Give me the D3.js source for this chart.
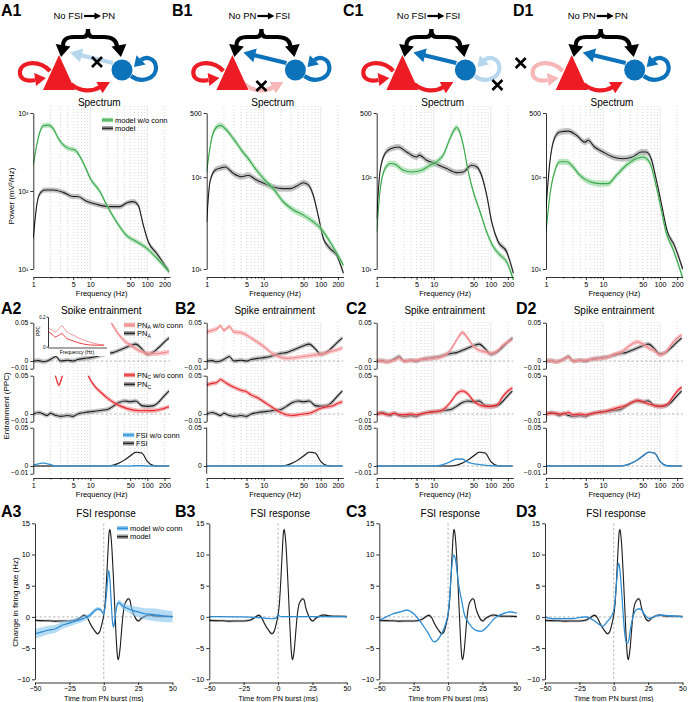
<!DOCTYPE html>
<html><head><meta charset="utf-8">
<script src="https://cdn.jsdelivr.net/npm/d3@7"></script>
<style>body{margin:0;background:#fff}svg text{font-family:"Liberation Sans",Arial,sans-serif}</style>
</head><body><script>
// ---------------- DATA ----------------
// Row 1: spectra (frequency Hz, power mV^2/Hz)
const A1g_f=[1,1.15,1.31,1.5,1.83,2.24,2.74,3.36,4.1,5.4,6.6,8.1,10,14.8,19.4,29,43,65,98,146,240];
const A1g_v=[215,389,575,687,700,630,474,389,352,335,275,205,145,98,66,40,27,22.4,18.4,13.8,9.3];
const A1k_f=[1,1.15,1.31,1.6,2.24,3.36,5,6,8.6,12.9,22,33,43,56.6,69,85,104,146,240];
const A1k_v=[24.7,66,93,103,103,96,85,85,74,67.5,63,63,70,73,66,36.6,22.4,15.9,9.3];
const B1g_f=[1,1.22,1.5,1.75,2.1,2.93,4.1,5.37,7.5,10.5,14.7,22,33,49.6,74,98,145,250];
const B1g_v=[114,263,352,367,339,263,196,159,119,93,75,54,44,38.6,32.7,28,19.8,11];
const B1k_f=[1,1.14,1.4,1.75,2.1,2.93,4.1,5.37,7.5,10.5,14.7,22,29,38,49.6,60,74,90,111,145,190,250];
const B1k_v=[32.6,89,119,126,129,110,101,105,93,85,78,75,75,80,87,83,63.6,38.6,21.6,16.8,14.2,9];
const C1g_f=[1,1.14,1.4,1.75,2.1,2.93,4.1,6.15,8.6,11.3,14.7,19.3,23.8,25.5,28,33,40.5,49.6,65,85,111,146,190,250];
const C1g_v=[25.4,69,124,141,138,119,114,119,135,147,174,263,339,347,320,223,114,69,42,25.4,17.5,14.2,12,7.6];
const C1k_f=[1,1.14,1.4,1.75,2.4,3.36,5,5.6,7.5,10.5,16.9,25,33,46,56.6,69,85,104,135,190,250];
const C1k_v=[35.6,114,181,204,213,188,166,174,153,141,124,112,114,135,130,105,63.6,32.7,19.8,15.4,9];
const D1g_f=[1,1.17,1.44,1.75,2.3,3,3.9,5.9,8.8,12.2,17.2,25.6,38,50,65,85,104,127,167,250];
const D1g_v=[25,63.6,119,147,147,129,105,89,85,85,105,135,159,166,147,82,45.7,25.4,16.8,8];
const D1k_f=[1,1.17,1.44,1.75,2.45,3.43,4.8,5.5,7.1,10,14.9,22.3,33,47,57,70,85,104,135,178,250];
const D1k_v=[45.7,147,274,310,317,286,241,252,213,188,166,159,166,188,188,159,97,54,25.4,18.2,10];

// Row 2: spike entrainment (PPC) on a shared frequency grid
const E=[1,1.25,1.5,1.75,2,2.5,3,4,5,6,8,10,13,16,20,25,32,40,50,63,80,100,130,160,200,240];
const PNA_model=[0,.0005,-.001,0,.002,.006,0,.001,0,.002,.0035,.0045,.006,.008,.010,.011,.014,.017,.020,.022,.016,.009,.012,.018,.025,.030];
const PNA_A=[.12,.11,.10,.095,.098,.12,.14,.12,.10,.095,.090,.085,.075,.065,.060,.046,.034,.026,.021,.016,.012,.010,.0095,.010,.011,.012];
const PNA_B=[.038,.040,.042,.046,.040,.045,.038,.037,.034,.030,.024,.019,.012,.008,.005,.0035,.004,.005,.006,.007,.008,.009,.011,.013,.015,.017];
const PNA_C=[.0005,0,-.001,0,.001,.004,0,.001,.001,.002,.003,.004,.005,.008,.015,.027,.037,.029,.019,.014,.012,.010,.013,.020,.025,.028];
const PNA_D=[0,.0005,-.001,0,.002,.005,0,.001,.001,.002,.003,.004,.006,.009,.011,.016,.022,.025,.022,.017,.013,.008,.013,.022,.030,.034];
const PNC_model=[0,.002,0,-.002,.001,-.002,-.003,-.002,-.003,0,.002,.003,.004,.005,.006,.010,.015,.017,.016,.017,.011,.010,.011,.016,.024,.030];
const PNC_A_f=[1,1.5,2,2.4,2.8,3.3,4,5,6.5,8,9.2,12,15,19,27,43,74,127,240];
const PNC_A=[.10,.085,.07,.052,.038,.052,.075,.08,.075,.062,.05,.036,.029,.022,.014,.0074,.0043,.0045,.0095];
const PNC_B=[.038,.040,.041,.045,.0425,.038,.035,.031,.029,.025,.021,.016,.0105,.006,.002,-.001,-.002,-.001,0,.001,.004,.0075,.0095,.0105,.014,.016];
const PNC_C=[0,.001,-.001,0,.001,-.001,-.001,0,-.001,0,.002,.003,.004,.008,.016,.026,.030,.026,.017,.012,.010,.010,.012,.022,.030,.034];
const PNC_D=[0,.001,.001,0,0,.002,-.001,0,-.001,0,.002,.003,.005,.007,.009,.011,.015,.018,.016,.013,.011,.010,.012,.020,.030,.035];
const FSI_model=[0,0,0,0,0,0,0,0,0,0,0,0,0,0,0,.001,.004,.008,.013,.018,.017,.006,.0005,0,0,0];
const FSI_A=[.001,.003,.004,.003,.002,0,0,0,0,0,0,0,0,0,0,0,0,0,0,.0005,.0005,0,0,0,0,0];
const FSI_B=[0,0,0,0,0,0,0,0,0,0,0,0,0,0,0,0,0,0,0,0,0,0,0,0,0,0];
const FSI_C=[0,0,0,0,0,0,0,0,0,0,0,0,.001,.003,.006,.009,.009,.005,.003,.002,.001,.0005,0,0,0,0];
const FSI_D=[0,0,0,0,0,0,0,0,0,0,0,0,0,0,0,.001,.004,.008,.013,.018,.017,.006,.0005,0,0,0];
// inset of A2 (full-range PPC)
const insetF=[1,1.4,1.8,2.5,3.5,4.5,5.7,8,11,18,30,50,80,130,210];
const insetLR=[.12,.11,.098,.115,.14,.12,.098,.085,.076,.058,.043,.03,.022,.015,.01];
const insetR=[.098,.08,.065,.075,.087,.07,.054,.045,.037,.025,.017,.012,.01,.01,.01];

// Row 3: FSI response (time ms, change in firing rate Hz)
const K3_t=[-50,-45,-40,-35,-30,-25,-20,-17,-14,-12,-10,-7,-4.5,-3,-1,0,1,2,3,4,4.5,5,6,7,8,9,10,10.5,11,12,13,14,15,16.5,18,19,20,22,24,25.5,27,30,33,36,40,45,50];
const K3_v=[-0.55,-0.6,-0.62,-0.68,-0.65,-0.65,-0.5,-0.1,0.25,-0.1,-1.0,-2.1,-2.7,-2.4,-0.8,0.3,2.2,5.8,10.2,13.7,14.0,13.4,10.7,6.4,1.6,-3.2,-6.4,-6.85,-6.5,-4.8,-2.1,0.3,1.8,2.6,2.9,2.7,1.6,0.3,-0.5,-0.65,-0.3,0.1,0.3,0.2,0.1,0.1,0.05];
const A3_t=[-50,-45,-40,-35,-30,-25,-20,-15,-10,-6,-4,-2,0,1,2,3,3.5,4.5,5.5,6.5,7.2,8,9,10,11,13,15,18,20,25,30,35,40,45,50];
const A3_v=[-2.7,-2.4,-2.1,-1.9,-1.3,-1.0,-0.65,-0.27,0.27,1.1,1.3,1.1,0.5,1.6,3.7,6.4,7.4,5.9,2.1,-1.1,-1.6,-0.5,1.1,2.1,2.3,1.9,1.6,1.3,1.1,0.8,0.5,0.4,0.27,0.1,0.05];
const A3_e=[0.8,0.75,0.7,0.65,0.6,0.55,0.5,0.45,0.4,0.35,0.3,0.3,0.3,0.3,0.3,0.3,0.3,0.3,0.3,0.3,0.3,0.3,0.35,0.4,0.45,0.5,0.55,0.6,0.7,0.8,0.9,1.0,1.0,0.95,0.9];
const B3_t=[-50,-30,-20,-10,-5,-2,-1,0,1,3,10,20,30,40,50];
const B3_v=[0.05,0,-0.05,-0.2,-0.3,-0.25,0,0.3,0.15,0.05,0.05,0.05,0.05,0.05,0.05];
const C3_t=[-50,-45,-40,-35,-30,-25,-20,-15,-10,-6,-3,-1,0,1,2,3,4,5,6,7,8,10,12,14,16,18,21,24,27,30,33,36,40,45,48,50];
const C3_v=[-0.54,0,0.5,0.8,1.07,0.5,-0.8,-2.4,-4.0,-3.2,-1.9,-0.5,0.5,2.7,5.9,8.6,9.9,9.6,8.3,6.4,4.8,2.5,0.3,-0.6,-1.3,-1.8,-2.2,-2.3,-1.9,-1.2,-0.4,0.1,0.5,0.8,0.7,0.6];
const D3_t=[-50,-45,-40,-30,-25,-20,-15,-10,-8,-5,-2,0,1,2,3,3.7,4.5,6,7,8,9,10,11,12,14,16,18,20,22,24,26,30,35,40,50];
const D3_v=[0,-0.27,-0.27,-0.27,-0.1,0,-0.5,-1.3,-1.5,-0.8,0,1.07,2.7,5.4,8.0,8.6,7.5,3.2,0,-2.7,-4.0,-4.2,-3.7,-2.1,0,1.07,1.3,1.2,0.5,0,-0.27,0.1,0.27,0.2,0.05];

// tick labels
const specXTicks=[1,5,10,50,100,200];
const specXMinor=[2,3,4,6,7,8,9,20,30,40,60,70,80,90];
const fsiXTicks=[-50,-25,0,25,50];
const fsiYTicks=[-10,-5,0,5,10,15];

// ---------------- DRAWING ----------------
const GR='#38a84a',GRb='#8fd39a',KK='#1e1e1e',KKb='#9a9a9a',LR='#f08a8d',LRb='#f6a9ab',RD='#e8252b',RDb='#f08a8d',BL='#2a8ad2',BLb='#86c5ef';
const svg=d3.select('body').append('svg').attr('width',688).attr('height',702);
let clipN=0;
function clip(x,y,w,h){const id='c'+(clipN++);svg.append('clipPath').attr('id',id).append('rect').attr('x',x).attr('y',y).attr('width',w).attr('height',h);return 'url(#'+id+')';}
function txt(g,x,y,s,size,anchor,extra){const t=g.append('text').attr('x',x).attr('y',y).attr('font-size',size).attr('text-anchor',anchor||'start').attr('fill','#000').text(s);if(extra)extra(t);return t;}
function drawSeries(g,x,y,s){
  const pts=s.f.map((f,i)=>({f,v:s.v[i],e:Array.isArray(s.e)?s.e[i]:s.e}));
  if(s.e){const ar=d3.area().curve(d3.curveMonotoneX).x(d=>x(d.f));
    if(s.rel)ar.y0(d=>y(d.v/(1+d.e))).y1(d=>y(d.v*(1+d.e)));else ar.y0(d=>y(d.v-d.e)).y1(d=>y(d.v+d.e));
    g.append('path').attr('d',ar(pts)).attr('fill',s.band).attr('fill-opacity',0.6);}
  g.append('path').attr('d',d3.line().curve(d3.curveMonotoneX).x(d=>x(d.f)).y(d=>y(d.v))(pts)).attr('fill','none').attr('stroke',s.c).attr('stroke-width',s.w||1.1);
}
function styleAxis(a){a.selectAll('path,line').attr('stroke','#000').attr('stroke-width',0.8);a.selectAll('text').attr('font-size',7.5).attr('fill','#000').attr('font-family','"Liberation Sans",Arial,sans-serif');}
function freqAxis(ax,yAx,x){
  const a=svg.append('g').attr('transform',`translate(0,${yAx})`).call(d3.axisBottom(x).tickValues(specXTicks).tickFormat(d3.format('d')).tickSize(3).tickSizeOuter(0).tickPadding(1.5));
  styleAxis(a);a.selectAll('text').attr('font-size',7.2);
  const m=svg.append('g').attr('transform',`translate(0,${yAx})`).call(d3.axisBottom(x).tickValues(specXMinor).tickFormat('').tickSize(1.5).tickSizeOuter(0));
  styleAxis(m);m.select('.domain').remove();
  txt(svg,x(1)+ (x(250)-x(1))/2,yAx+19,'Frequency (Hz)',7.5,'middle');
}
function vgrid(x,y1,y2){
  specXMinor.concat([5,50,200]).forEach(f=>svg.append('line').attr('x1',x(f)).attr('x2',x(f)).attr('y1',y1).attr('y2',y2).attr('stroke','#bdbdbd').attr('stroke-width',0.6).attr('stroke-dasharray','1,2'));
  [10,100].forEach(f=>svg.append('line').attr('x1',x(f)).attr('x2',x(f)).attr('y1',y1).attr('y2',y2).attr('stroke','#e2e2e2').attr('stroke-width',0.8));
}
function legendItem(x,y,c,b,label,sub,rest){
  svg.append('rect').attr('x',x).attr('y',y-2.2).attr('width',11).attr('height',4.4).attr('fill',b);
  svg.append('line').attr('x1',x).attr('x2',x+11).attr('y1',y).attr('y2',y).attr('stroke',c).attr('stroke-width',1.2);
  const t=txt(svg,x+13,y+2.6,'',7.5);
  t.append('tspan').text(label);
  if(sub){t.append('tspan').attr('font-size',5).attr('dy',1.8).text(sub);t.append('tspan').attr('dy',-1.8).text(rest||'');}
}
const cols=[33.3,206.7,376.7,546];
const cols3=[35,209.3,379.3,545];
const colOff=[0,173.4,343.4,512.7];
const letters=['A','B','C','D'];

// ---- panel labels
letters.forEach((L,i)=>{
  const lx=[1,172,343,513][i];
  [[1,16],[2,314],[3,516.5]].forEach(([n,y])=>txt(svg,lx+(n>1&&i>0?3:0),y,L+n,16,'start',t=>t.attr('font-weight','bold')));
});

// ---- Row 1 diagrams
const RED='#ed1c24',BLUE='#0c72ba',PINK='#f7b6b8',LBLUE='#b7d7ee';
function head(g,tx,ty,ang,L,w,c){const a=ang*Math.PI/180,bx=tx-L*Math.cos(a),by=ty-L*Math.sin(a),px=-Math.sin(a)*w,py=Math.cos(a)*w;
  g.append('path').attr('d',`M${tx},${ty}L${bx+px},${by+py}L${bx-px},${by-py}Z`).attr('fill',c);}
function diagram(ox,mode){
  const g=svg.append('g').attr('transform',`translate(${ox},0)`);
  const t1={A:'No FSI',B:'No PN',C:'No FSI',D:'No PN'}[mode],t2={A:'PN',B:'FSI',C:'FSI',D:'PN'}[mode];
  txt(g,83,19.3,t1,9.5,'end');txt(g,102,19.3,t2,9.5,'start');
  g.append('line').attr('x1',84).attr('x2',95).attr('y1',16).attr('y2',16).attr('stroke','#000').attr('stroke-width',2.2);
  head(g,101,16,0,6.5,3.5,'#000');
  // brace
  g.append('path').attr('d','M63,46 C63,39 67,37 74,37 L83,37 C86,37 88,35 88,29 C88,35 90,37 93,37 L104,37 C111,37 116,39 117,46').attr('fill','none').attr('stroke','#000').attr('stroke-width',4.2);
  head(g,61,57,100,12,7.5,'#000');head(g,121,57,80,12,7.5,'#000');
  // PN self loop
  const cRL=mode==='D'?PINK:RED;
  g.append('path').attr('d','M50,71 C40,60 22,61 20,71 C19,79 26,82 35,80').attr('fill','none').attr('stroke',cRL).attr('stroke-width',4.2);
  head(g,46,78,-8,11,6.5,cRL);
  // FSI -> PN
  const cB=mode==='A'?LBLUE:BLUE;
  g.append('path').attr('d','M113,63 L80,55').attr('stroke',cB).attr('stroke-width',4.2).attr('fill','none');
  head(g,70,52.5,194,12,7,cB);
  // PN -> FSI
  const cR=mode==='B'?PINK:RED;
  g.append('path').attr('d','M71,84 C80,92 92,92 100,87').attr('fill','none').attr('stroke',cR).attr('stroke-width',4.2);
  head(g,110,82,-28,12,6.5,cR);
  // triangle and circle
  g.append('path').attr('d','M59,55 L43,90 L75,90 Z').attr('fill',RED);
  g.append('circle').attr('cx',122).attr('cy',70).attr('r',10.5).attr('fill',BLUE);
  // FSI self loop
  const cBL=mode==='C'?LBLUE:BLUE;
  g.append('path').attr('d','M131,76 C142,84 157,78 156,67 C155,58 146,56 141,60').attr('fill','none').attr('stroke',cBL).attr('stroke-width',4.2);
  head(g,134,67,135,10,6.5,cBL);
  // cross
  const X={A:[97,62],B:[88,86],C:[154,85],D:[8,63]}[mode];
  g.append('path').attr('d',`M${X[0]-5},${X[1]-5}L${X[0]+5},${X[1]+5}M${X[0]+5},${X[1]-5}L${X[0]-5},${X[1]+5}`).attr('stroke','#000').attr('stroke-width',2.6);
}
letters.forEach((L,i)=>diagram(colOff[i],L));

// ---- Row 1 spectra
const specs=[
 {ymax:1000,yt:[10,100,1000],yl:['10¹','10²','10³'],g:[A1g_f,A1g_v],k:[A1k_f,A1k_v]},
 {ymax:500,yt:[10,100,500],yl:['10¹','10²','500'],g:[B1g_f,B1g_v],k:[B1k_f,B1k_v]},
 {ymax:500,yt:[10,100,500],yl:['10¹','10²','500'],g:[C1g_f,C1g_v],k:[C1k_f,C1k_v]},
 {ymax:500,yt:[10,100,500],yl:['10¹','10²','500'],g:[D1g_f,D1g_v],k:[D1k_f,D1k_v]}];
specs.forEach((s,i)=>{
  const ax=cols[i];
  const x=d3.scaleLog().domain([1,250]).range([ax,ax+136.7]);
  const y=d3.scaleLog().domain([10,s.ymax]).range([269,113]);
  vgrid(x,106,272);
  txt(svg,ax+66,106,'Spectrum',10,'middle');
  const g=svg.append('g').attr('clip-path',clip(ax,100,140,180));
  drawSeries(g,x,y,{f:s.k[0],v:s.k[1],e:0.08,rel:true,c:KK,band:KKb});
  drawSeries(g,x,y,{f:s.g[0],v:s.g[1],e:0.08,rel:true,c:GR,band:GRb});
  const ya=svg.append('g').attr('transform',`translate(${ax},0)`).call(d3.axisLeft(y).tickValues(s.yt).tickFormat((d,j)=>s.yl[j]).tickSize(3).tickSizeOuter(0).tickPadding(2));
  styleAxis(ya);ya.selectAll('text').attr('font-size',7);
  freqAxis(ax,277,x);
});
txt(svg,0,0,'Power (mV²/Hz)',8,'middle',t=>t.attr('transform','translate(14,196) rotate(-90)'));
legendItem(102,120,GR,GRb,'model w/o conn');
legendItem(102,128.3,KK,KKb,'model');

// ---- Row 2 entrainment
const tops=[322.7,375.7,427.7];
const ent=[
 [[PNA_A,E],[PNC_A,PNC_A_f],[FSI_A,E]],
 [[PNA_B,E],[PNC_B,E],[FSI_B,E]],
 [[PNA_C,E],[PNC_C,E],[FSI_C,E]],
 [[PNA_D,E],[PNC_D,E],[FSI_D,E]]];
ent.forEach((col,i)=>{
  const ax=cols[i];
  const x=d3.scaleLog().domain([1,250]).range([ax,ax+136.7]);
  vgrid(x,322,474);
  txt(svg,ax+68,314,'Spike entrainment',10,'middle');
  const models=[PNA_model,PNC_model,FSI_model];
  const cl=[[LR,LRb,0.003],[RD,RDb,0.003],[BL,BLb,0.001]];
  tops.forEach((top,j)=>{
    const y=d3.scaleLinear().domain([-0.01,0.05]).range([top+46,top]);
    svg.append('line').attr('x1',ax).attr('x2',ax+136.7).attr('y1',y(0)).attr('y2',y(0)).attr('stroke','#9a9a9a').attr('stroke-width',0.7).attr('stroke-dasharray','2.5,2');
    const g=svg.append('g').attr('clip-path',clip(ax,top,140,46));
    drawSeries(g,x,y,{f:E,v:models[j],e:j<2?0.003:0.001,c:KK,band:KKb});
    drawSeries(g,x,y,{f:col[j][1],v:col[j][0],e:cl[j][2],c:cl[j][0],band:cl[j][1]});
    const showNeg=!(i===1&&j===2);
    const ya=svg.append('g').attr('transform',`translate(${ax},0)`).call(d3.axisLeft(y).tickValues(showNeg?[-0.01,0,0.05]:[0,0.05]).tickFormat(d=>d===0?'0':d3.format('.2f')(d)).tickSize(3).tickSizeOuter(0).tickPadding(2));
    styleAxis(ya);
    ya.selectAll('text').attr('font-size',6.8);
    ya.selectAll('.tick').filter(d=>d<0).select('text').attr('dy','0.1em');
    ya.selectAll('.tick').filter(d=>d===0).select('text').attr('dy','0.2em');
    if(!showNeg) ya.select('.domain').attr('d',`M-0,${top}V${top+46}`);
  });
  freqAxis(ax,478,x);
});
txt(svg,0,0,'Entrainment (PPC)',8,'middle',t=>t.attr('transform','translate(9,406) rotate(-90)'));
legendItem(124,325,LR,LRb,'PN','A',' w/o conn');
legendItem(124,333.3,KK,KKb,'PN','A','');
legendItem(124,375,RD,RDb,'PN','C',' w/o conn');
legendItem(124,384.3,KK,KKb,'PN','C','');
legendItem(123,435,BL,BLb,'FSI w/o conn');
legendItem(123,443.3,KK,KKb,'FSI');
// inset
{
  const ix=d3.scaleLog().domain([1,250]).range([49,106]);
  const iy=d3.scaleLinear().domain([0,0.2]).range([346.7,316.7]);
  svg.append('rect').attr('x',40).attr('y',314).attr('width',70).attr('height',42).attr('fill','#fff');
  const ig=svg.append('g');
  drawSeries(ig,ix,iy,{f:insetF,v:insetLR,c:LR,w:0.9});
  drawSeries(ig,ix,iy,{f:insetF,v:insetR,c:RD,w:0.9});
  const ya=svg.append('g').attr('transform','translate(48,0)').call(d3.axisLeft(iy).tickValues([0,0.2]).tickFormat(d=>d===0?'0':'0.2').tickSize(1.5).tickSizeOuter(0).tickPadding(1));
  styleAxis(ya);ya.selectAll('text').attr('font-size',4.5);
  svg.append('line').attr('x1',48).attr('x2',107).attr('y1',348).attr('y2',348).attr('stroke','#000').attr('stroke-width',0.7);
  txt(svg,77,353.5,'Frequency (Hz)',5,'middle');
  txt(svg,0,0,'PPC',4.5,'middle',t=>t.attr('transform','translate(40,331) rotate(-90)'));
}

// ---- Row 3 FSI response
const blues=[[A3_t,A3_v,A3_e],[B3_t,B3_v,0],[C3_t,C3_v,0.12],[D3_t,D3_v,0.12]];
blues.forEach((b,i)=>{
  const ax=cols3[i];
  const x=d3.scaleLinear().domain([-50,50]).range([ax,ax+137.5]);
  const y=d3.scaleLinear().domain([-10,15]).range([679.3,523.3]);
  txt(svg,ax+71,516.5,'FSI response',10,'middle');
  svg.append('line').attr('x1',x(-50)).attr('x2',x(50)).attr('y1',y(0)).attr('y2',y(0)).attr('stroke','#9a9a9a').attr('stroke-width',0.7).attr('stroke-dasharray','2.5,2');
  svg.append('line').attr('x1',x(0)).attr('x2',x(0)).attr('y1',y(15)).attr('y2',y(-10)).attr('stroke','#9a9a9a').attr('stroke-width',0.7).attr('stroke-dasharray','2.5,2');
  const g=svg.append('g');
  drawSeries(g,x,y,{f:K3_t,v:K3_v,e:0.2,c:KK,band:KKb});
  drawSeries(g,x,y,{f:b[0],v:b[1],e:b[2],c:BL,band:BLb,w:1.2});
  const ya=svg.append('g').attr('transform',`translate(${ax},0)`).call(d3.axisLeft(y).tickValues(fsiYTicks).tickSize(3).tickSizeOuter(0).tickPadding(2));
  styleAxis(ya);
  const xa=svg.append('g').attr('transform','translate(0,682.5)').call(d3.axisBottom(x).tickValues(fsiXTicks).tickSize(2.5).tickSizeOuter(0).tickPadding(1));
  styleAxis(xa);xa.selectAll('text').attr('font-size',7);
  txt(svg,x(0),700.5,'Time from PN burst (ms)',7.3,'middle');
});
txt(svg,0,0,'Change in firing rate (Hz)',8,'middle',t=>t.attr('transform','translate(18,602) rotate(-90)'));
legendItem(117,528.3,BL,BLb,'model w/o  conn');
legendItem(117,536.7,KK,KKb,'model');
</script></body></html>
